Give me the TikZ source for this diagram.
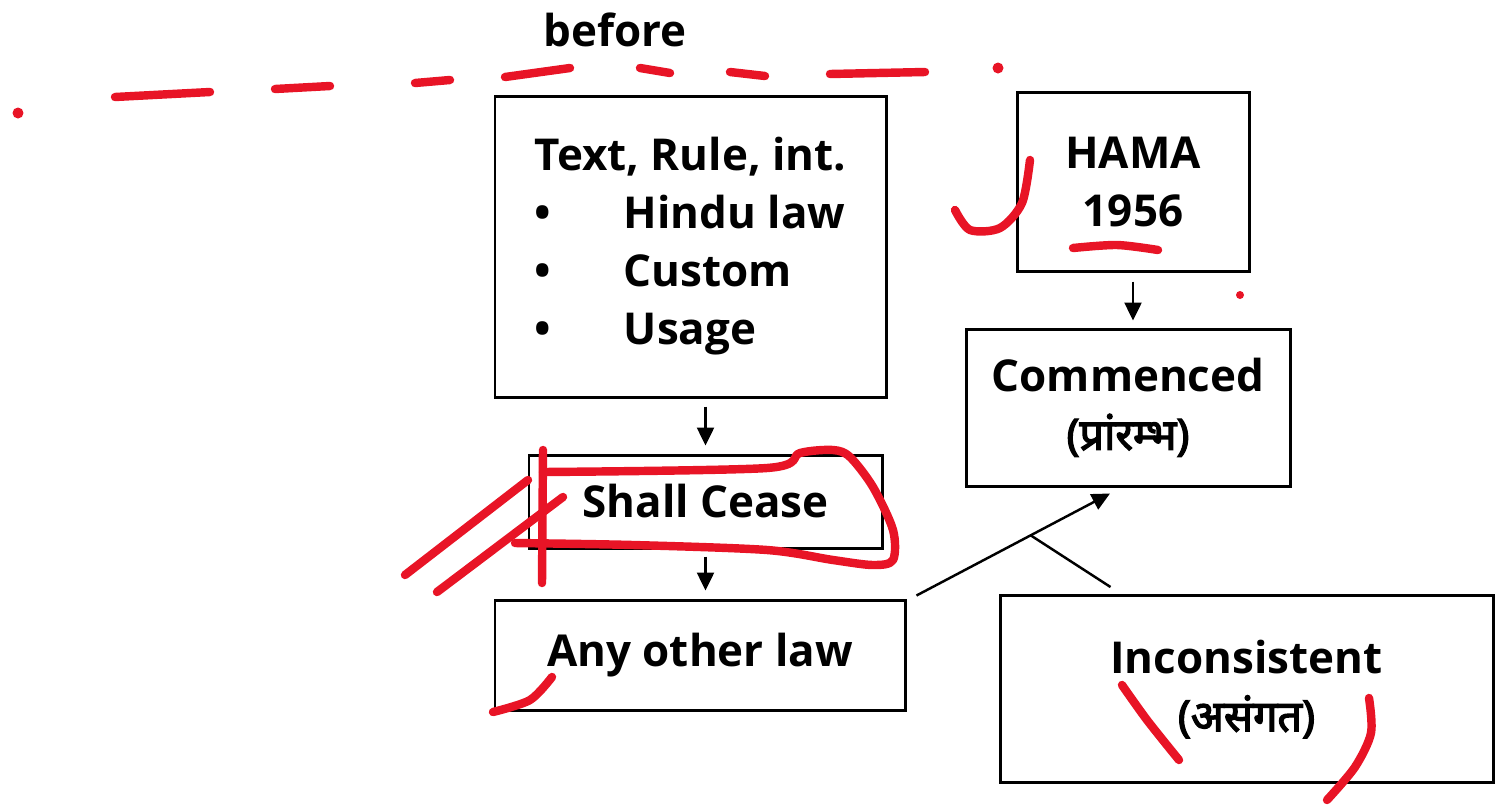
\documentclass[tikz,border=0pt]{standalone}
\usepackage{fontspec}
\setmainfont{Open Sans}
\newfontfamily\hindi[Script=Devanagari, BoldFont=*, BoldFeatures={FakeBold=3}]{Noto Sans}
\usetikzlibrary{arrows.meta}
\definecolor{pen}{RGB}{232,20,38}

\begin{document}
\begin{tikzpicture}[
    box/.style={rectangle, draw, line width=0.85pt, align=center, inner sep=0pt, font=\fontsize{12.5}{16.5}\selectfont\bfseries},
    arrow/.style={-{Triangle[length=1.8mm,width=1.7mm]}, line width=0.7pt},
    ink/.style={draw=pen, line width=2.4pt, line cap=round, line join=round}
]
\useasboundingbox (0,0) rectangle (14.95,8.04);

% Boxes
\node[font=\fontsize{12.5}{15}\selectfont\bfseries] (before) at (6.15,7.74) {before};
\node[box, minimum width=3.91cm, minimum height=3.01cm, align=left] (source) at (6.905,5.575)
    {Text, Rule, int.\\ \makebox[0.89cm][l]{•}Hindu law\\ \makebox[0.89cm][l]{•}Custom\\ \makebox[0.89cm][l]{•}Usage};
\node[box, minimum width=3.53cm, minimum height=0.93cm] (cease) at (7.055,3.025) {Shall Cease};
\node[box, minimum width=4.10cm, minimum height=1.10cm] (other) at (7.00,1.49) {Any other law};
\node[box, minimum width=2.32cm, minimum height=1.79cm] (hama) at (11.33,6.225) {HAMA\\1956};
\node[box, minimum width=3.24cm, minimum height=1.57cm] (comm) at (11.28,3.965)
    {Commenced\\{\hindi\fontsize{12.3}{16.5}\selectfont (प्रांरम्भ)}};
\node[box, minimum width=4.93cm, minimum height=1.87cm] (inc) at (12.465,1.15)
    {Inconsistent\\{\hindi\fontsize{12.3}{16.5}\selectfont (असंगत)}};

% Connections
\draw[arrow, shorten <=0.08cm, shorten >=0.08cm] (cease.north |- source.south) -- (cease.north);
\draw[arrow, shorten <=0.07cm, shorten >=0.08cm] (cease.south) -- (cease.south |- other.north);
\draw[arrow, shorten <=0.09cm, shorten >=0.07cm] (hama.south) -- (hama.south |- comm.north);
\draw[arrow] ([shift={(0.10,0.03)}]other.north east) -- coordinate[pos=0.59] (join) ([shift={(-0.18,-0.06)}]comm.south);
\draw[line width=0.7pt] (join) -- ([shift={(1.12,0.07)}]inc.north west);

% Pen marks
\foreach \xa/\ya/\xb/\yb in {1.15/7.07/2.10/7.12, 2.75/7.15/3.30/7.18, 4.15/7.21/4.50/7.24, 5.05/7.27/5.70/7.36,
                   6.40/7.36/6.70/7.31, 7.30/7.32/7.65/7.28, 8.30/7.30/9.25/7.32}
  \draw[ink] (\xa,\ya) -- (\xb,\yb);
\fill[pen] (0.18,6.91) circle (0.055);
\fill[pen] (9.98,7.36) circle (0.055);
\fill[pen] (12.40,5.09) circle (0.04);
\draw[ink] plot[smooth] coordinates {(10.30,6.44) (10.22,6.01) (10.00,5.76) (9.70,5.74) (9.55,5.94)};
\draw[ink] plot[smooth] coordinates {(10.73,5.56) (11.17,5.59) (11.58,5.54)};
\draw[ink] (5.43,3.54) -- (5.42,2.21);
\draw[ink] plot[smooth] coordinates {(5.43,3.32) (7.67,3.36) (8.00,3.51) (8.33,3.54) (8.50,3.47) (8.73,3.17)
    (8.93,2.74) (8.93,2.44) (8.73,2.39) (8.33,2.44) (7.67,2.54) (6.33,2.59) (5.15,2.61)};
\draw[ink] (4.05,2.29) -- (5.28,3.24);
\draw[ink] (4.37,2.12) -- (5.63,3.07);
\draw[ink] plot[smooth] coordinates {(5.52,1.27) (5.30,1.04) (4.93,0.92)};
\draw[ink] plot[smooth] coordinates {(11.22,1.19) (11.47,0.84) (11.79,0.44)};
\draw[ink] plot[smooth] coordinates {(13.69,1.06) (13.71,0.71) (13.55,0.37) (13.27,0.04)};

\end{tikzpicture}
\end{document}
